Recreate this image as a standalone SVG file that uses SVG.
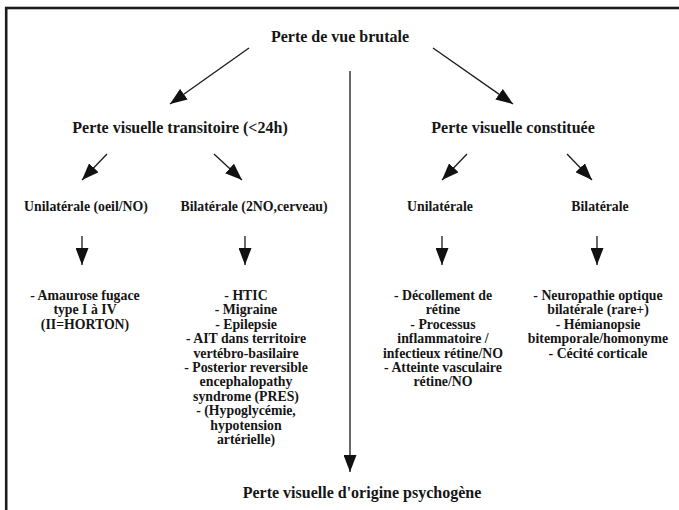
<svg xmlns="http://www.w3.org/2000/svg" width="679" height="510" viewBox="0 0 679 510">
<style>
text{font-family:"Liberation Serif","Times New Roman",serif;font-weight:bold;fill:#151515;text-anchor:middle}
.h{font-size:16px}
.b{font-size:13.8px}
.c{stroke:#1a1a1a;stroke-width:1.3;fill:none}
</style>
<defs>
<marker id="ah" markerUnits="userSpaceOnUse" markerWidth="18" markerHeight="13" refX="17" refY="6.5" orient="auto">
<path d="M0,0 L17,6.5 L0,13 z" fill="#111"/>
</marker>
</defs>
<rect x="0" y="0" width="679" height="510" fill="#fff"/>
<rect x="6.2" y="8" width="720" height="540" fill="none" stroke="#1c1c1c" stroke-width="2.6"/>
<g id="connectors">
<line class="c" x1="249" y1="48" x2="170" y2="104" marker-end="url(#ah)"/>
<line class="c" x1="433" y1="48" x2="513" y2="104" marker-end="url(#ah)"/>
<line class="c" x1="350" y1="71" x2="350" y2="472" marker-end="url(#ah)"/>
<line class="c" x1="107" y1="154" x2="82" y2="180" marker-end="url(#ah)"/>
<line class="c" x1="214" y1="154" x2="242" y2="180" marker-end="url(#ah)"/>
<line class="c" x1="467" y1="154" x2="442" y2="180" marker-end="url(#ah)"/>
<line class="c" x1="567" y1="154" x2="592" y2="180" marker-end="url(#ah)"/>
<line class="c" x1="82" y1="236" x2="82" y2="265" marker-end="url(#ah)"/>
<line class="c" x1="245" y1="236" x2="245" y2="265" marker-end="url(#ah)"/>
<line class="c" x1="442" y1="236" x2="442" y2="265" marker-end="url(#ah)"/>
<line class="c" x1="597" y1="236" x2="597" y2="265" marker-end="url(#ah)"/>
</g>
<g id="n-root"><text class="h" x="340" y="42">Perte de vue brutale</text></g>
<g id="n-transitoire"><text class="h" x="180" y="133">Perte visuelle transitoire (&lt;24h)</text></g>
<g id="n-constituee"><text class="h" x="513" y="133">Perte visuelle constituée</text></g>
<g id="n-uni-t"><text class="b" x="86" y="211">Unilatérale (oeil/NO)</text></g>
<g id="n-bi-t"><text class="b" x="254" y="211">Bilatérale (2NO,cerveau)</text></g>
<g id="n-uni-c"><text class="b" x="440" y="211">Unilatérale</text></g>
<g id="n-bi-c"><text class="b" x="600" y="211">Bilatérale</text></g>
<g id="n-amaurose">
<text class="b" x="85" y="300">- Amaurose fugace</text>
<text class="b" x="85" y="314.4">type I à IV</text>
<text class="b" x="85" y="328.8">(II=HORTON)</text>
</g>
<g id="n-bi-t-list">
<text class="b" x="246" y="300">- HTIC</text>
<text class="b" x="246" y="314.4">- Migraine</text>
<text class="b" x="246" y="328.8">- Epilepsie</text>
<text class="b" x="246" y="343.2">- AIT dans territoire</text>
<text class="b" x="246" y="357.6">vertébro-basilaire</text>
<text class="b" x="246" y="372">- Posterior reversible</text>
<text class="b" x="246" y="386.4">encephalopathy</text>
<text class="b" x="246" y="400.8">syndrome (PRES)</text>
<text class="b" x="246" y="415.2">- (Hypoglycémie,</text>
<text class="b" x="246" y="429.6">hypotension</text>
<text class="b" x="246" y="444">artérielle)</text>
</g>
<g id="n-uni-c-list">
<text class="b" x="443" y="300">- Décollement de</text>
<text class="b" x="443" y="314.4">rétine</text>
<text class="b" x="443" y="328.8">- Processus</text>
<text class="b" x="443" y="343.2">inflammatoire /</text>
<text class="b" x="443" y="357.6">infectieux rétine/NO</text>
<text class="b" x="443" y="372">- Atteinte vasculaire</text>
<text class="b" x="443" y="386.4">rétine/NO</text>
</g>
<g id="n-bi-c-list">
<text class="b" x="598" y="300">- Neuropathie optique</text>
<text class="b" x="598" y="314.4">bilatérale (rare+)</text>
<text class="b" x="598" y="328.8">- Hémianopsie</text>
<text class="b" x="598" y="343.2">bitemporale/homonyme</text>
<text class="b" x="598" y="357.6">- Cécité corticale</text>
</g>
<g id="n-psychogene"><text class="h" x="362" y="498">Perte visuelle d'origine psychogène</text></g>
</svg>
